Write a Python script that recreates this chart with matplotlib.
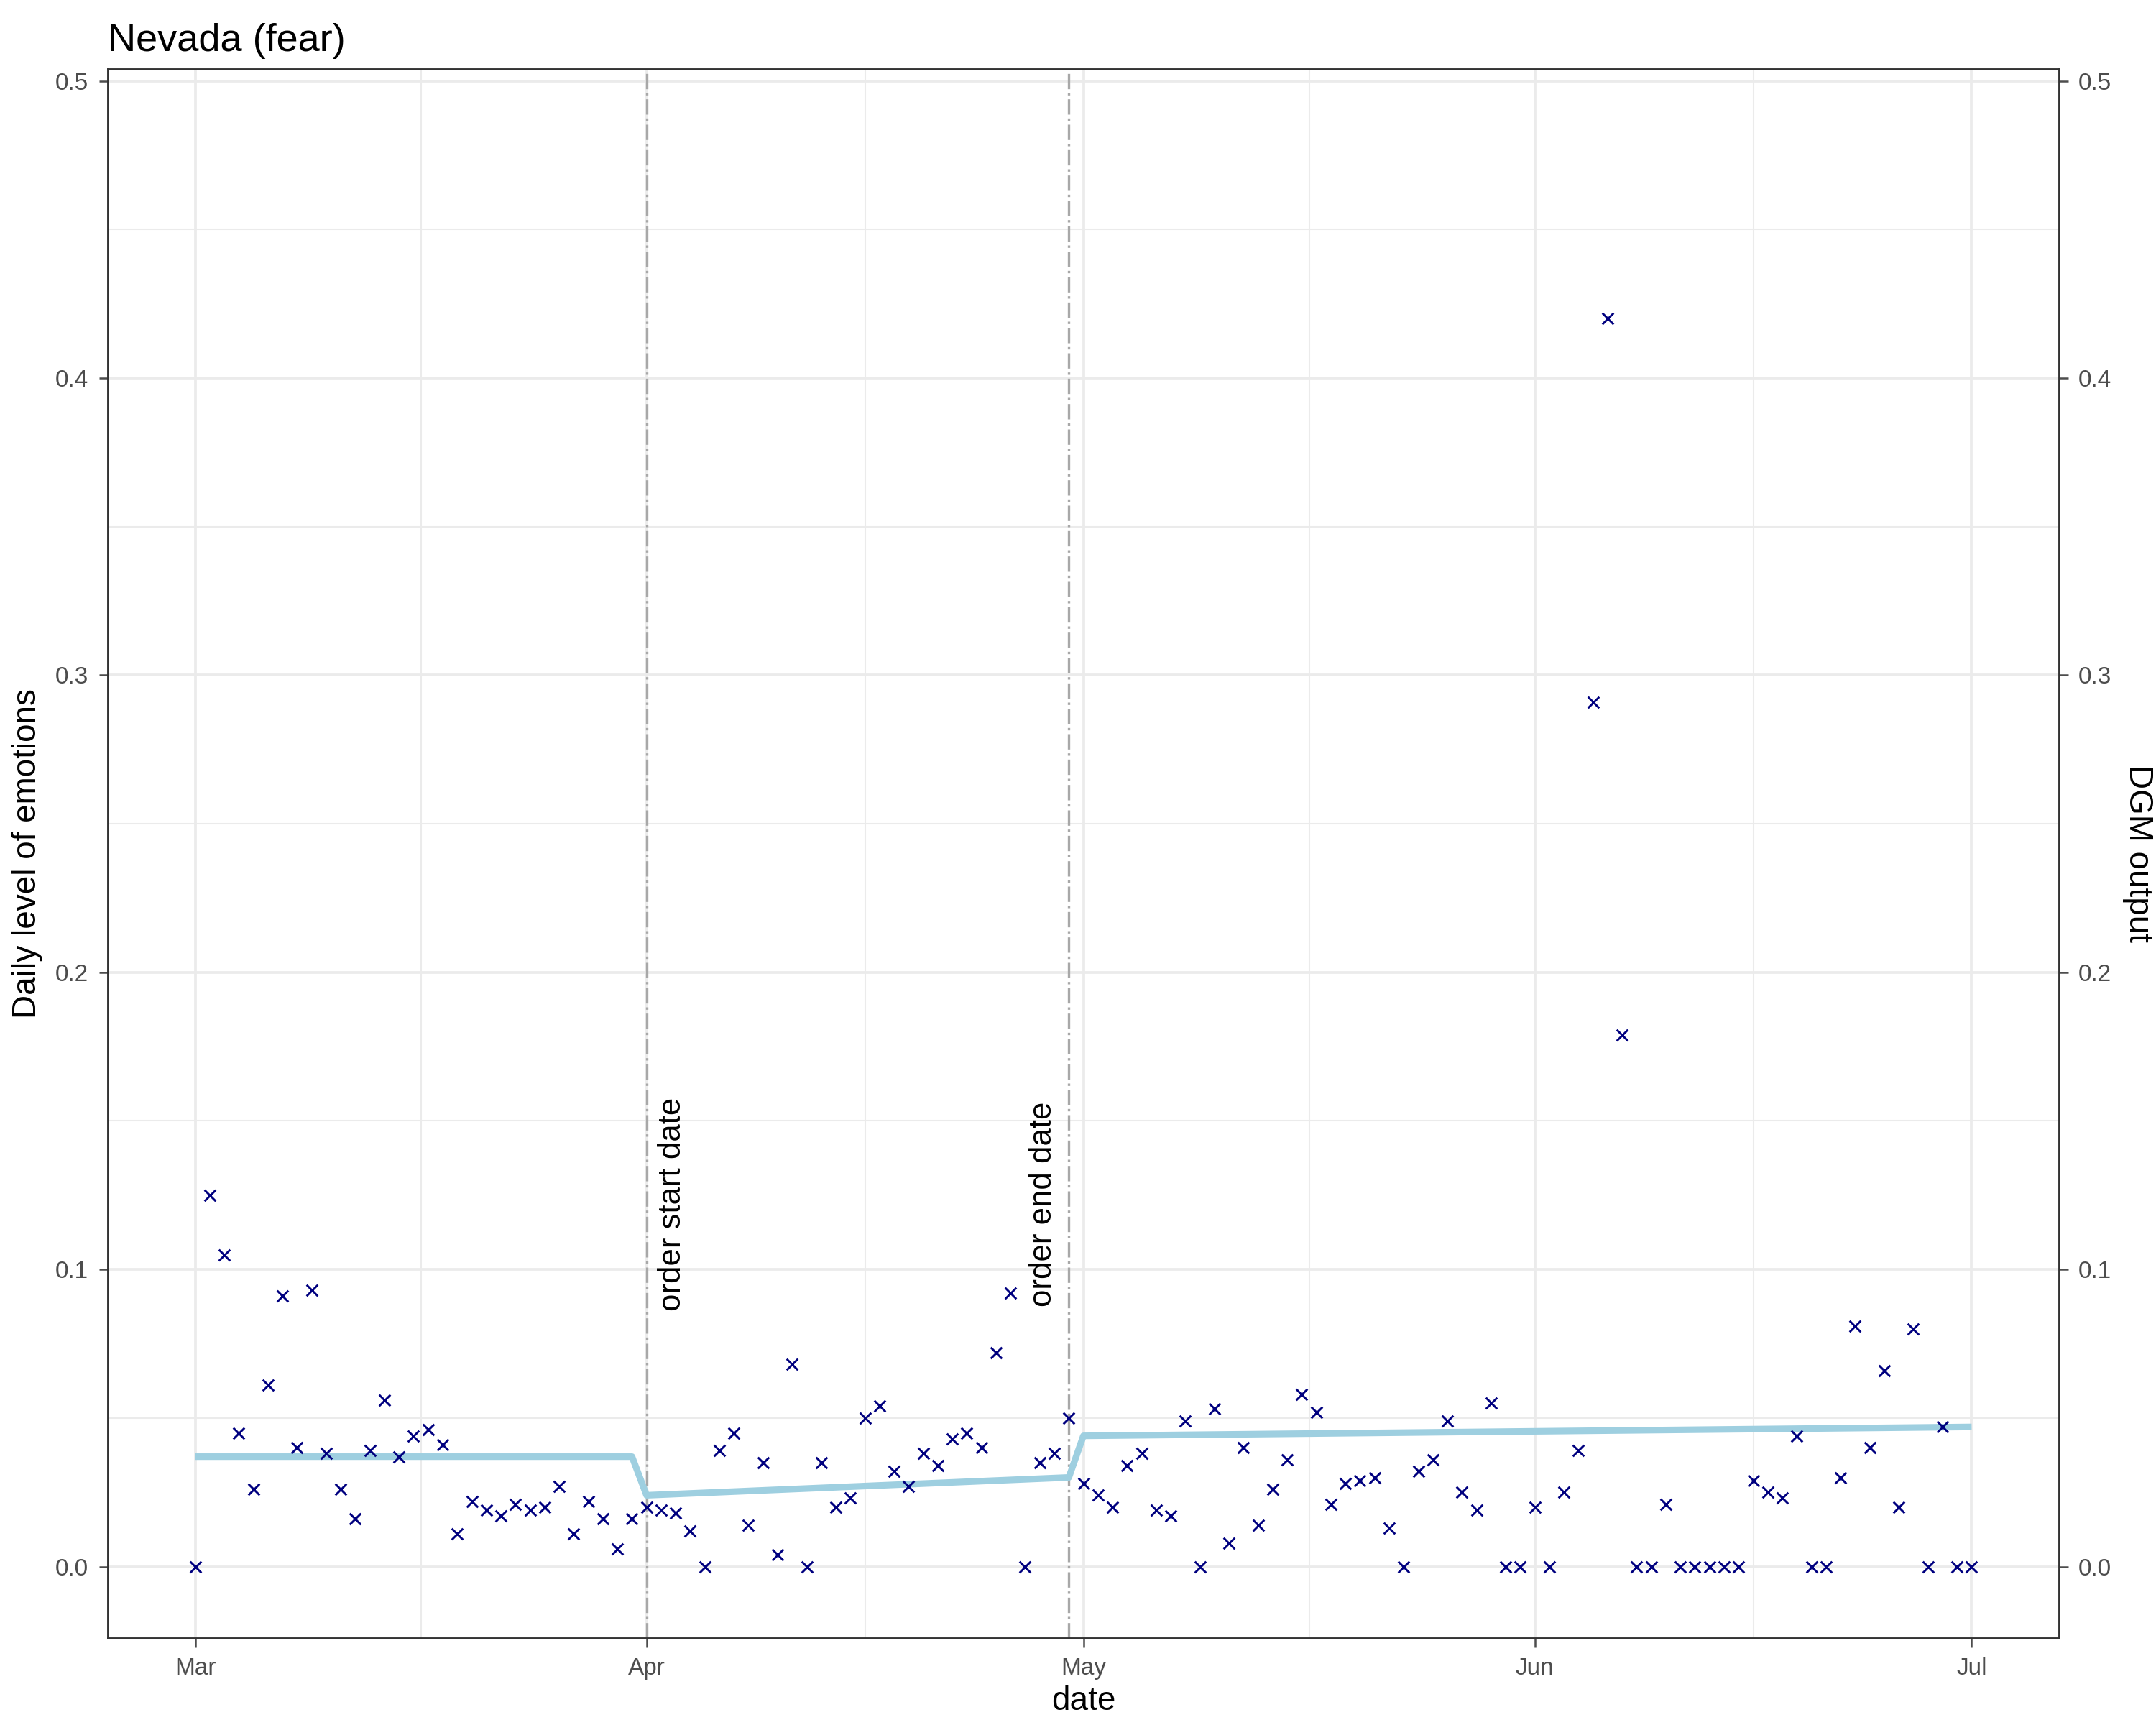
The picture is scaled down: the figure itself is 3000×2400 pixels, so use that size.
import matplotlib
matplotlib.use("Agg")
import matplotlib.pyplot as plt
import matplotlib.dates as mdates
import numpy as np
import pandas as pd

# daily fear level, Mar 1 .. Jul 1
mar = [0, 0.125, 0.105, 0.045, 0.026, 0.061, 0.091, 0.040, 0.093, 0.038, 0.026, 0.016, 0.039,
       0.056, 0.037, 0.044, 0.046, 0.041, 0.011, 0.022, 0.019, 0.017, 0.021, 0.019, 0.020, 0.027,
       0.011, 0.022, 0.016, 0.006, 0.016]
apr = [0.020, 0.019, 0.018, 0.012, 0, 0.039, 0.045, 0.014, 0.035, 0.004, 0.068, 0, 0.035, 0.020,
       0.023, 0.050, 0.054, 0.032, 0.027, 0.038, 0.034, 0.043, 0.045, 0.040, 0.072, 0.092, 0,
       0.035, 0.038, 0.050]
may = [0.028, 0.024, 0.020, 0.034, 0.038, 0.019, 0.017, 0.049, 0, 0.053, 0.008, 0.040, 0.014,
       0.026, 0.036, 0.058, 0.052, 0.021, 0.028, 0.029, 0.030, 0.013, 0, 0.032, 0.036, 0.049,
       0.025, 0.019, 0.055, 0, 0]
jun = [0.020, 0, 0.025, 0.039, 0.291, 0.420, 0.179, 0, 0, 0.021, 0, 0, 0, 0, 0, 0.029, 0.025,
       0.023, 0.044, 0, 0, 0.030, 0.081, 0.040, 0.066, 0.020, 0.080, 0, 0.047, 0]
jul = [0]
values = mar + apr + may + jun + jul
dates = pd.date_range("2020-03-01", periods=len(values), freq="D")

# DGM output: piecewise linear segments (start date, end date, start value, end value)
dgm_segments = [
    ("2020-03-01", "2020-03-31", 0.037, 0.037),
    ("2020-03-31", "2020-04-01", 0.037, 0.024),
    ("2020-04-01", "2020-04-30", 0.024, 0.030),
    ("2020-04-30", "2020-05-01", 0.030, 0.044),
    ("2020-05-01", "2020-07-01", 0.044, 0.047),
]
order_start = pd.Timestamp("2020-04-01")
order_end = pd.Timestamp("2020-04-30")

plt.rcParams["font.family"] = ["Liberation Sans", "DejaVu Sans"]
fig = plt.figure(figsize=(10, 8), dpi=300)
ax = fig.add_axes([0.05, 0.0505, 0.905, 0.9095])

major = pd.to_datetime(["2020-03-01", "2020-04-01", "2020-05-01", "2020-06-01", "2020-07-01"])
mnum = mdates.date2num(major)
minor = (mnum[:-1] + mnum[1:]) / 2
for v in minor:
    ax.axvline(v, color="#ebebeb", lw=0.5, zorder=0)
for v in mnum:
    ax.axvline(v, color="#ebebeb", lw=0.9, zorder=0)
for v in np.arange(-0.0, 0.51, 0.1):
    ax.axhline(v, color="#ebebeb", lw=0.9, zorder=0)
for v in np.arange(0.05, 0.5, 0.1):
    ax.axhline(v, color="#ebebeb", lw=0.5, zorder=0)

ax.scatter(dates, values, marker="x", s=14, color="#00007f", linewidths=0.7, zorder=3)

xs, ys = [], []
for s, e, v0, v1 in dgm_segments:
    xs += [pd.Timestamp(s), pd.Timestamp(e)]
    ys += [v0, v1]
ax.plot(xs, ys, color="#9ecfe0", lw=2.2, zorder=2, solid_capstyle="butt")

for d in (order_start, order_end):
    ax.axvline(d, color="#a8a8a8", lw=0.8, ls="-.", zorder=1)
ax.text(order_start + pd.Timedelta(hours=18), 0.122, "order start date", rotation=90,
        ha="left", va="center", fontsize=10.5)
ax.text(order_end - pd.Timedelta(hours=18), 0.122, "order end date", rotation=90,
        ha="right", va="center", fontsize=10.5)

ax.set_xlim(mdates.date2num(pd.Timestamp("2020-03-01")) - 6,
            mdates.date2num(pd.Timestamp("2020-03-01")) + 128)
ax.set_ylim(-0.024, 0.504)
ax.set_xticks(major)
ax.set_xticklabels(["Mar", "Apr", "May", "Jun", "Jul"])
ax.set_yticks(np.arange(0, 0.51, 0.1))
ax.set_yticklabels([f"{v:.1f}" for v in np.arange(0, 0.51, 0.1)])
ax.tick_params(labelsize=8, colors="#4d4d4d", length=3, width=0.6)
ax.set_xlabel("date", fontsize=11, labelpad=2)
ax.set_ylabel("Daily level of emotions", fontsize=11)
for sp in ax.spines.values():
    sp.set_color("#333333")
    sp.set_linewidth(0.6)

ax2 = ax.twinx()
ax2.set_ylim(ax.get_ylim())
ax2.set_yticks(np.arange(0, 0.51, 0.1))
ax2.set_yticklabels([f"{v:.1f}" for v in np.arange(0, 0.51, 0.1)])
ax2.tick_params(labelsize=8, colors="#4d4d4d", length=3, width=0.6)
ax2.set_ylabel("DGM output", fontsize=11, rotation=-90, labelpad=14)
for sp in ax2.spines.values():
    sp.set_color("#333333")
    sp.set_linewidth(0.6)

ax.set_title("Nevada (fear)", loc="left", fontsize=13, pad=6)
fig.savefig("out.png", dpi=300)
